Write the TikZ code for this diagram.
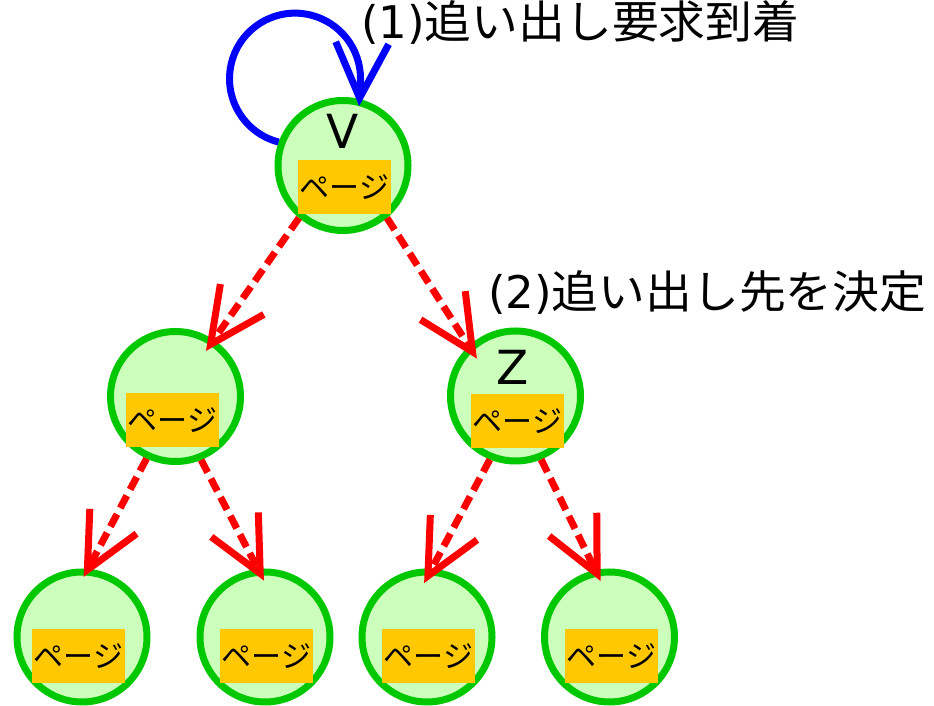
\documentclass[tikz,border=0pt]{standalone}
\usepackage{fontspec}
\setmainfont{DejaVu Sans}
\newfontfamily\jpfont{Noto Sans CJK JP}
\newfontfamily\jpwide[FakeStretch=1.04]{Noto Sans CJK JP}
\usetikzlibrary{arrows.meta}

\definecolor{nodegreen}{RGB}{0,200,0}
\definecolor{nodefill}{RGB}{204,255,187}
\definecolor{pageorange}{RGB}{255,200,0}

\tikzset{
  tree node/.style={circle, draw=nodegreen, fill=nodefill, line width=7pt,
    minimum size=130pt, inner sep=0pt},
  page box/.style={rectangle, fill=pageorange, minimum width=93pt,
    minimum height=54pt, inner sep=0pt, font=\jpfont\fontsize{30}{30}\selectfont},
  node label/.style={inner sep=0pt, font=\fontsize{47}{47}\selectfont},
  caption/.style={anchor=base west, inner sep=0pt, font=\fontsize{45}{54}\selectfont},
  barb/.style={-{Straight Barb[length=55pt, width=53pt, line width=7pt, sharp]}},
  evict/.style={barb, draw=red, line width=7pt, dash pattern=on 14pt off 7pt},
  request/.style={barb, draw=blue, line width=7pt},
}

\begin{document}
\begin{tikzpicture}[x=1pt, y=1pt]
\useasboundingbox (0,0) rectangle (934,706);

% tree nodes
\node[tree node] (v)  at (343,540.5) {};
\node[tree node] (a)  at (175.5,309.5) {};
\node[tree node] (z)  at (515.5,310) {};
\node[tree node] (l1) at (82,69) {};
\node[tree node] (l2) at (265,69) {};
\node[tree node] (l3) at (427,69) {};
\node[tree node] (l4) at (609.5,69) {};

% page boxes
\node[page box] (pv)  at (344.5,518.5) {ページ};
\node[page box] (pa)  at (172.5,285.5) {ページ};
\node[page box] (pz)  at (517.5,285) {ページ};
\node[page box] (p1)  at (78.5,50) {ページ};
\node[page box] (p2)  at (266.5,50) {ページ};
\node[page box] (p3)  at (428.5,50) {ページ};
\node[page box] (p4)  at (611.5,50) {ページ};

% node names
\node[node label] (vl) at (343,574.5) {V};
\node[node label] (zl) at (513,339) {Z};

% step captions
\node[caption] (c1) at (361,667) {(1){\jpwide 追い出し要求到着}};
\node[caption] (c2) at (488,397) {(2){\jpwide 追い出し先を決定}};

% eviction arrows
\draw[evict, shorten >=-13.7pt] (v.230) -- (a.56);
\draw[evict, shorten >=-15pt]   (v.310) -- (z.133);
\draw[evict, shorten >=-9.3pt]  (a.245) -- (l1.85);
\draw[evict, shorten >=-13.2pt] (a.292) -- (l2.96);
\draw[evict, shorten >=-16.3pt] (z.248) -- (l3.86);
\draw[evict, shorten >=-12.3pt] (z.292) -- (l4.102);

% incoming request loop
\draw[request, shorten >=-7pt] (v.160)
  arc[start angle=255.5, end angle=0, radius=65.5] -- (v.76);
\end{tikzpicture}
\end{document}
